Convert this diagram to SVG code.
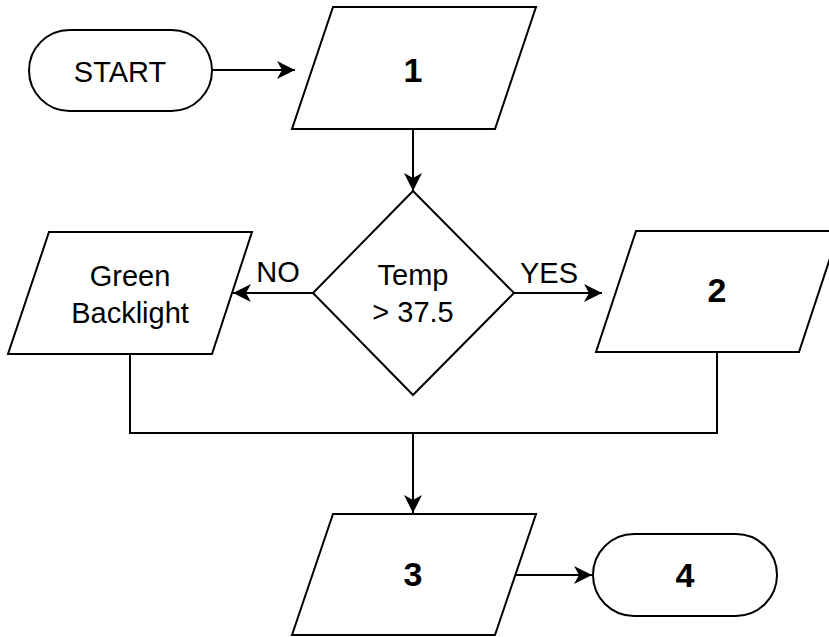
<svg xmlns="http://www.w3.org/2000/svg" width="829" height="637" viewBox="0 0 829 637">
<defs>
<marker id="arr" markerUnits="userSpaceOnUse" markerWidth="22" markerHeight="22" viewBox="-20 -11 22 22" refX="0" refY="0" orient="auto">
<path d="M0,0 L-18,-9 L-13,0 L-18,9 Z" fill="#000"/>
</marker>
</defs>
<style>
.s{fill:#fff;stroke:#000;stroke-width:2}
.c{fill:none;stroke:#000;stroke-width:2}
.t{font-family:"Liberation Sans",Arial,sans-serif;font-size:29px;fill:#000;text-anchor:middle}
.b{font-family:"Liberation Sans",Arial,sans-serif;font-size:34px;font-weight:bold;fill:#000;text-anchor:middle}
</style>
<rect width="829" height="637" fill="#fff"/>
<g id="connectors">
<path class="c" d="M212,70 H295" marker-end="url(#arr)"/>
<path class="c" d="M413,129 V191" marker-end="url(#arr)"/>
<path class="c" d="M313,293 H233" marker-end="url(#arr)"/>
<path class="c" d="M514,293 H602" marker-end="url(#arr)"/>
<path class="c" d="M130,354 V433 H413"/>
<path class="c" d="M717,352 V433 H413"/>
<path class="c" d="M413,433 V513" marker-end="url(#arr)"/>
<path class="c" d="M516,575 H592" marker-end="url(#arr)"/>
<text class="t" x="278" y="282">NO</text>
<text class="t" x="549" y="283">YES</text>
</g>
<g id="start">
<rect class="s" x="29" y="30" width="183" height="81" rx="40.5"/>
<text class="t" x="120" y="82">START</text>
</g>
<g id="n1">
<path class="s" d="M333,7 H536 L495,129 H292 Z"/>
<text class="b" x="413" y="82">1</text>
</g>
<g id="decision">
<path class="s" d="M413,191 L514,293 L413,395 L313,293 Z"/>
<text class="t" x="413" y="285">Temp</text>
<text class="t" x="413" y="322">&gt; 37.5</text>
</g>
<g id="green">
<path class="s" d="M49,232 H252 L212,354 H8 Z"/>
<text class="t" x="130" y="286">Green</text>
<text class="t" x="130" y="323">Backlight</text>
</g>
<g id="n2">
<path class="s" d="M636,231 H839 L799,352 H596 Z"/>
<text class="b" x="717" y="302">2</text>
</g>
<g id="n3">
<path class="s" d="M333,514 H536 L495,635 H292 Z"/>
<text class="b" x="413" y="586">3</text>
</g>
<g id="n4">
<rect class="s" x="593" y="534" width="184" height="82" rx="41"/>
<text class="b" x="685" y="587">4</text>
</g>
</svg>
